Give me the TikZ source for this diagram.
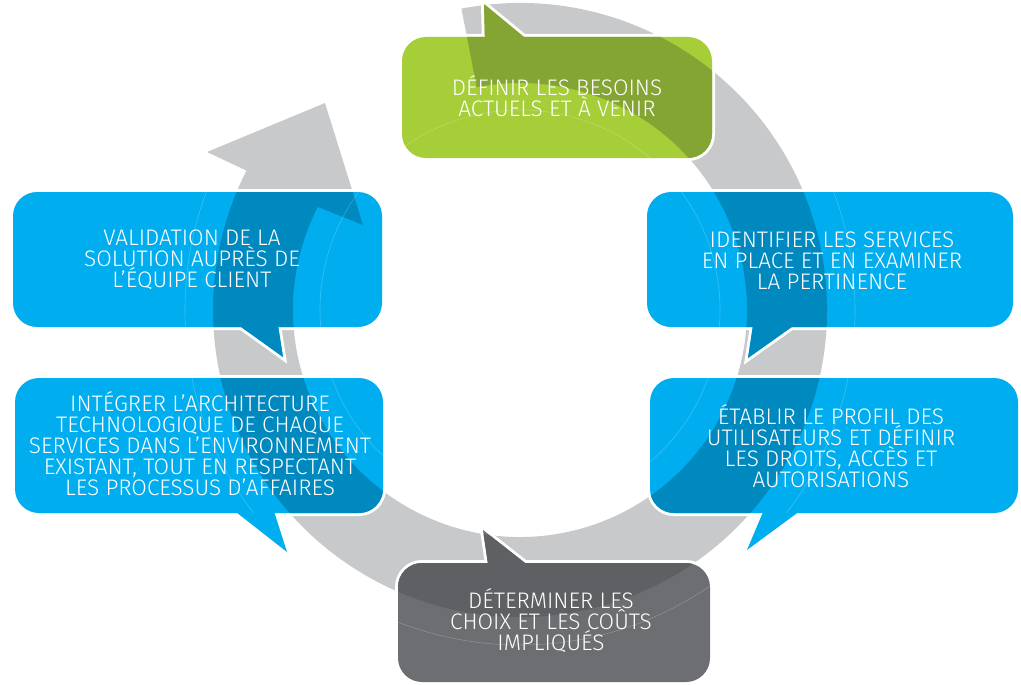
\documentclass[tikz,border=0pt]{standalone}
\usepackage{fontspec}
\setmainfont{Fira Sans}[UprightFont={* Light}]
\usetikzlibrary{calc}

\definecolor{anneau}{HTML}{C8C9CB}
\definecolor{vertclair}{HTML}{A6CE39}
\definecolor{vertfonce}{HTML}{84A533}
\definecolor{bleuclair}{HTML}{00AEEF}
\definecolor{bleufonce}{HTML}{0089BF}
\definecolor{grisclair}{HTML}{6D6E71}
\definecolor{grisfonce}{HTML}{5F6063}

\tikzset{
  texte/.style={text=white, align=center, font=\fontsize{22.5}{21}\selectfont},
  contour/.style={draw=white, line width=6pt, line join=miter},
  coin/.style={rounded corners=24pt},
  reflet/.style={draw=white, draw opacity=0.22, line width=0.6pt},
}

% the grey ring with its arrow head
\newcommand{\fleche}{(520,310) ++(-101:307) arc[start angle=-101, end angle=207, radius=307]
  -- (207,152) -- (325,103) -- (363,225)
  -- ($(520,310)+(207:227)$) arc[start angle=207, end angle=-101, radius=227] -- cycle}

% #1 light colour, #2 dark colour, #3 box, #4 tail
\newcommand{\bulle}[4]{%
  \draw[contour, coin] #3;
  \draw[contour] #4;
  \fill[#1, coin] #3;
  \fill[#1] #4;
  \begin{scope}[]
  \clip[coin] #3;
  \fill[#2] \fleche;
  \draw[reflet] (520,310) circle[radius=200] (520,310) circle[radius=335];
  \end{scope}
  \begin{scope}[]
  \clip #4;
  \fill[#2] \fleche;
  \end{scope}
}

\begin{document}
\begin{tikzpicture}[x=1pt, y=-1pt]

    \useasboundingbox (0,0) rectangle (1021,685);
    \fill[anneau] \fleche;

    \bulle{vertclair}{vertfonce}{(402,37) rectangle (712,158)}{(485,45) -- (484,4) -- (524,37) -- (530,45) -- cycle}
    \node[texte] (besoins) at (557,96) {DÉFINIR LES BESOINS\\ACTUELS ET À VENIR};

    \bulle{bleuclair}{bleufonce}{(13,192) rectangle (382,327)}{(230,319) -- (283,357) -- (277,319) -- cycle}
    \node[texte] (validation) at (192,260) {VALIDATION DE LA\\SOLUTION AUPRÈS DE\\L'ÉQUIPE CLIENT};

    \bulle{bleuclair}{bleufonce}{(647,192) rectangle (1013,327)}{(754,319) -- (748,358) -- (803,319) -- cycle}
    \node[texte] (services) at (832,261) {IDENTIFIER LES SERVICES\\EN PLACE ET EN EXAMINER\\LA PERTINENCE};

    \bulle{bleuclair}{bleufonce}{(15,378) rectangle (383,513)}{(227,505) -- (287,552) -- (272,505) -- cycle}
    \node[texte] (integrer) at (200,444) {INTÉGRER L'ARCHITECTURE\\TECHNOLOGIQUE DE CHAQUE\\SERVICES DANS L'ENVIRONNEMENT\\EXISTANT, TOUT EN RESPECTANT\\LES PROCESSUS D'AFFAIRES};

    \bulle{bleuclair}{bleufonce}{(650,378) rectangle (1018,513)}{(766,505) -- (747,550) -- (808,505) -- cycle}
    \node[texte] (etablir) at (831,446) {ÉTABLIR LE PROFIL DES\\UTILISATEURS ET DÉFINIR\\LES DROITS, ACCÈS ET\\AUTORISATIONS};

    \bulle{grisclair}{grisfonce}{(398,563) rectangle (710,682)}{(489,571) -- (483,530) -- (525,563) -- (533,571) -- cycle}
    \node[texte] (couts) at (551,621) {DÉTERMINER LES\\CHOIX ET LES COÛTS\\IMPLIQUÉS};

\end{tikzpicture}
\end{document}
